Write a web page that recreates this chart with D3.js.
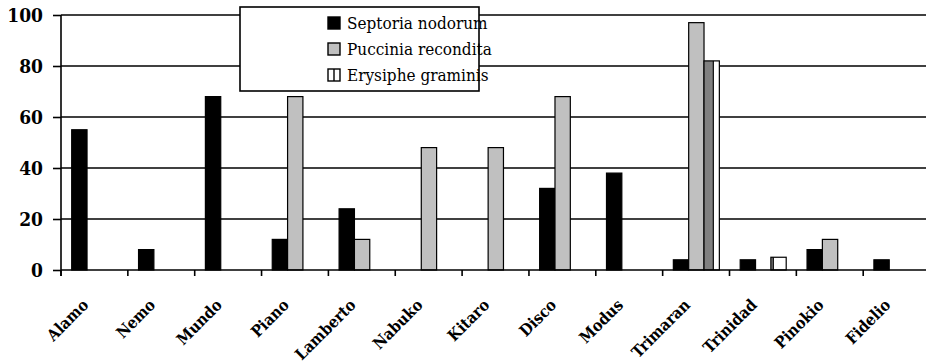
<!DOCTYPE html>
<html>
<head>
<meta charset="utf-8">
<script src="https://cdn.jsdelivr.net/npm/d3@7"></script>
<style>
  html, body { margin: 0; padding: 0; background: #fff; }
  svg { display: block; }
  text { font-family: "DejaVu Serif Condensed", "DejaVu Serif", serif; font-stretch: condensed; }
</style>
</head>
<body>
<svg id="chart" width="926" height="364"></svg>
<script>
// Disease incidence per cultivar
const categories = ["Alamo", "Nemo", "Mundo", "Piano", "Lamberto", "Nabuko", "Kitaro",
                    "Disco", "Modus", "Trimaran", "Trinidad", "Pinokio", "Fidelio"];
const seriesNames = ["Septoria nodorum", "Puccinia recondita", "Erysiphe graminis"];
const septoria = [55, 8, 68, 12, 24, 0, 0, 32, 38, 4, 4, 8, 4];
const puccinia = [0, 0, 0, 68, 12, 48, 48, 68, 0, 97, 0, 12, 0];
const erysiphe = [0, 0, 0, 0, 0, 0, 0, 0, 0, 82, 5, 0, 0];
const yTicks = [0, 20, 40, 60, 80, 100];

const seriesValues = [septoria, puccinia, erysiphe];

const svg = d3.select("#chart");
const margin = { left: 61, top: 15 };
const plotH = 255;
const bandW = 66.85;
const plotW = bandW * categories.length;

const defs = svg.append("defs");
// vertical-stripe fill used for Erysiphe graminis
const pat = defs.append("pattern")
  .attr("id", "stripes")
  .attr("patternUnits", "userSpaceOnUse")
  .attr("x", 0).attr("y", 0)
  .attr("width", 60).attr("height", 10);
pat.append("rect").attr("width", 60).attr("height", 10).attr("fill", "#fff");
pat.append("rect").attr("x", 43).attr("width", 8.5).attr("height", 10).attr("fill", "#808080");
pat.append("rect").attr("x", 51.5).attr("width", 1.4).attr("height", 10).attr("fill", "#000");

const fills = ["#000000", "#c0c0c0", "url(#stripes)"];

const g = svg.append("g").attr("transform", `translate(${margin.left},${margin.top})`);

const x = d3.scaleBand().domain(categories).range([0, plotW]).padding(0);
const xs = d3.scaleBand().domain(seriesNames).range([10.7, 56.7]).padding(0);
const y = d3.scaleLinear().domain([0, 100]).range([plotH, 0]);

// horizontal gridlines
g.append("g").selectAll("line")
  .data(yTicks.filter(d => d > 0))
  .join("line")
  .attr("x1", 0).attr("x2", plotW)
  .attr("y1", d => y(d)).attr("y2", d => y(d))
  .attr("stroke", "#000").attr("stroke-width", 1.6);

// bars
const barData = [];
seriesValues.forEach((vals, si) => {
  vals.forEach((v, ci) => {
    if (v > 0) barData.push({ cat: categories[ci], series: seriesNames[si], si, v });
  });
});
g.append("g").selectAll("rect")
  .data(barData)
  .join("rect")
  .attr("x", d => x(d.cat) + xs(d.series))
  .attr("y", d => y(d.v))
  .attr("width", xs.bandwidth())
  .attr("height", d => y(0) - y(d.v))
  .attr("fill", d => fills[d.si])
  .attr("stroke", "#000")
  .attr("stroke-width", 1.2);

// y axis
const yAxis = g.append("g")
  .call(d3.axisLeft(y).tickValues(yTicks).tickSize(8).tickPadding(10).tickFormat(d3.format("d")));
yAxis.attr("font-family", null);
yAxis.select(".domain").remove();
yAxis.selectAll(".tick line").attr("stroke", "#000").attr("stroke-width", 1.6);
yAxis.selectAll(".tick text")
  .attr("font-size", 19).attr("font-weight", "bold").attr("fill", "#000");
g.append("line")
  .attr("x1", 0).attr("x2", 0).attr("y1", 0).attr("y2", plotH + 6)
  .attr("stroke", "#000").attr("stroke-width", 1.6);

// x axis with ticks at category boundaries
const xAxisG = g.append("g").attr("transform", `translate(0,${plotH})`);
xAxisG.append("line").attr("x1", 0).attr("x2", plotW)
  .attr("stroke", "#000").attr("stroke-width", 1.6);
xAxisG.selectAll("line.tk")
  .data(categories)
  .join("line").attr("class", "tk")
  .attr("x1", d => x(d)).attr("x2", d => x(d))
  .attr("y1", 0).attr("y2", 6)
  .attr("stroke", "#000").attr("stroke-width", 1.6);
xAxisG.selectAll("text")
  .data(categories)
  .join("text")
  .attr("transform", d => `translate(${x(d) + x.bandwidth() / 2 - 5},36) rotate(-45)`)
  .attr("text-anchor", "end")
  .attr("font-size", 16).attr("font-weight", "bold")
  .text(d => d);

// legend
const lg = svg.append("g").attr("transform", "translate(240,7)");
lg.append("rect").attr("width", 239).attr("height", 84)
  .attr("fill", "#fff").attr("stroke", "#000").attr("stroke-width", 1.6);
const rows = lg.selectAll("g.row").data(seriesNames).join("g")
  .attr("class", "row")
  .attr("transform", (d, i) => `translate(88,${10 + i * 26})`);
rows.append("rect").attr("width", 12).attr("height", 12)
  .attr("fill", (d, i) => i === 2 ? "#fff" : fills[i])
  .attr("stroke", "#000").attr("stroke-width", 1.4);
rows.filter((d, i) => i === 2).append("line")
  .attr("x1", 6).attr("x2", 6).attr("y1", 0).attr("y2", 12)
  .attr("stroke", "#000").attr("stroke-width", 1.4);
rows.append("text")
  .attr("x", 19).attr("y", 12)
  .attr("font-size", 17)
  .text(d => d);
</script>
</body>
</html>
